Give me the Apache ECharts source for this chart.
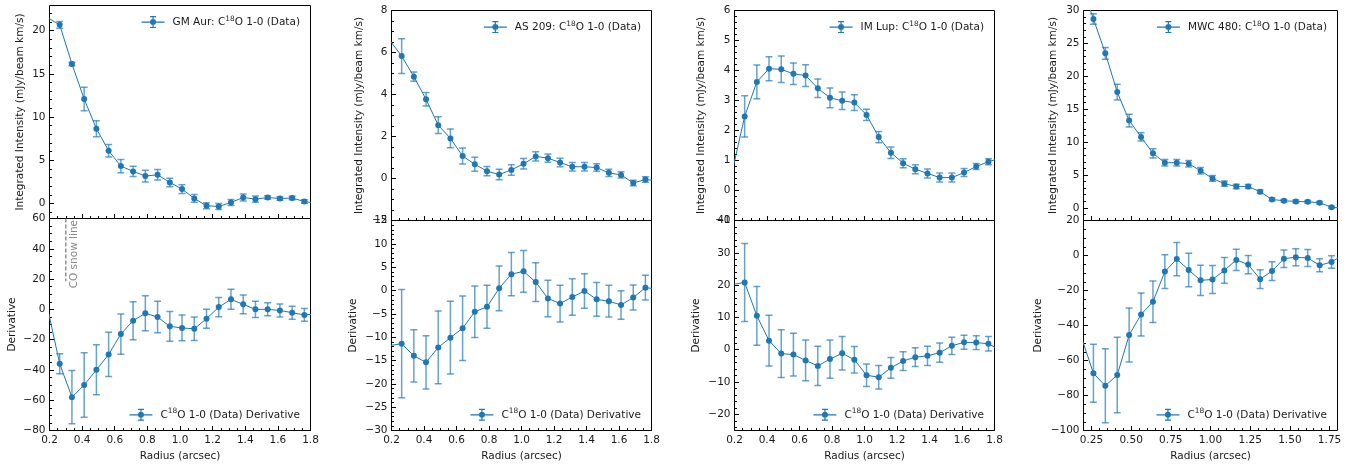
<!DOCTYPE html>
<html>
<head>
<meta charset="utf-8">
<script src="https://cdn.jsdelivr.net/npm/echarts@6/dist/echarts.min.js"></script>
<style>
  html, body { margin: 0; padding: 0; background: #ffffff; }
  #chart { width: 1364px; height: 464px; }
</style>
</head>
<body>
<div id="chart"></div>
<script>
// Radial bins (arcsec); the first and last bins sit just outside the plotted range
const radius = [0.1875, 0.2625, 0.3375, 0.4125, 0.4875, 0.5625, 0.6375, 0.7125, 0.7875, 0.8625,
  0.9375, 1.0125, 1.0875, 1.1625, 1.2375, 1.3125, 1.3875, 1.4625, 1.5375, 1.6125, 1.6875, 1.7625, 1.8375];

// GM Aur
const gmAurIntensity = [21.5, 20.66, 16.14, 12.08, 8.65, 6.1, 4.32, 3.71, 3.17, 3.32, 2.43, 1.66, 0.58,
  -0.27, -0.35, 0.12, 0.69, 0.5, 0.69, 0.58, 0.62, 0.23, 0.0];
const gmAurIntensityErr = [null, 0.4, 0.2, 1.35, 0.93, 0.73, 0.77, 0.6, 0.68, 0.6, 0.5, 0.5, 0.45,
  0.35, 0.35, 0.35, 0.4, 0.35, 0.2, 0.2, 0.2, 0.2, null];
const gmAurDerivative = [1.1, -35.9, -58.0, -50.0, -39.9, -29.8, -16.3, -7.5, -2.6, -5.1, -11.2, -12.3,
  -12.8, -6.2, 1.5, 6.6, 3.3, 0.0, 0.0, -0.7, -2.2, -3.7, -2.9];
const gmAurDerivativeErr = [null, 6.6, 17.6, 21.3, 16.5, 14.6, 13.3, 12.5, 11.6, 10.4, 9.8, 8.5, 7.7,
  6.3, 6.3, 6.6, 6.2, 5.4, 4.3, 4.3, 4.3, 4.2, null];

// AS 209
const as209Intensity = [6.6, 5.83, 4.85, 3.77, 2.54, 1.91, 1.07, 0.68, 0.35, 0.19, 0.41, 0.7, 1.05,
  0.97, 0.76, 0.56, 0.56, 0.52, 0.27, 0.17, -0.21, -0.05, -0.1];
const as209IntensityErr = [null, 0.83, 0.22, 0.32, 0.4, 0.45, 0.38, 0.33, 0.22, 0.25, 0.25, 0.25, 0.22,
  0.2, 0.2, 0.2, 0.2, 0.18, 0.17, 0.15, 0.13, 0.13, null];
const as209Derivative = [-11.8, -11.4, -14.0, -15.4, -12.2, -10.1, -8.1, -4.55, -3.5, 0.47, 3.5, 4.1,
  1.8, -1.7, -2.8, -1.4, -0.1, -1.9, -2.3, -3.1, -1.5, 0.6, 0.34];
const as209DerivativeErr = [null, 11.6, 5.6, 5.7, 7.8, 7.8, 6.9, 5.5, 4.6, 4.8, 4.65, 4.45, 4.15,
  3.9, 3.95, 3.9, 3.7, 3.6, 3.4, 3.05, 2.7, 2.65, null];

// IM Lup
const imLupIntensity = [0.67, 2.47, 3.62, 4.06, 4.04, 3.89, 3.83, 3.41, 3.09, 2.99, 2.93, 2.52, 1.78,
  1.26, 0.91, 0.71, 0.57, 0.43, 0.43, 0.6, 0.8, 0.96, 1.08];
const imLupIntensityErr = [null, 0.69, 0.56, 0.4, 0.44, 0.36, 0.36, 0.31, 0.33, 0.29, 0.26, 0.19, 0.19,
  0.19, 0.15, 0.15, 0.15, 0.15, 0.15, 0.13, 0.1, 0.1, null];
const imLupDerivative = [20.2, 20.8, 10.5, 2.8, -1.2, -1.5, -3.3, -5.0, -2.9, -1.1, -3.1, -7.9, -8.5,
  -5.6, -3.5, -2.3, -1.9, -0.9, 1.2, 2.3, 2.2, 1.85, -0.25];
const imLupDerivativeErr = [null, 12.05, 9.1, 7.85, 7.4, 6.6, 6.3, 6.05, 5.95, 5.2, 4.1, 3.5, 3.65,
  3.2, 2.9, 2.9, 3.0, 3.0, 2.7, 2.15, 2.15, 2.25, null];

// MWC 480
const mwc480Intensity = [33.9, 28.72, 23.49, 17.59, 13.27, 10.78, 8.29, 6.86, 6.86, 6.71, 5.64, 4.47,
  3.66, 3.25, 3.25, 2.44, 1.27, 1.07, 0.97, 0.92, 0.76, 0.1, -0.1];
const mwc480IntensityErr = [null, 0.8, 0.9, 1.2, 0.97, 0.64, 0.7, 0.5, 0.5, 0.5, 0.5, 0.45,
  0.4, 0.35, 0.3, 0.25, 0.25, 0.2, 0.2, 0.2, 0.2, 0.15, null];
const mwc480Derivative = [-46.9, -67.3, -74.4, -68.3, -45.4, -33.7, -26.4, -9.2, -2.0, -8.3, -14.2, -13.7,
  -8.5, -2.5, -5.2, -13.5, -8.9, -1.8, -1.0, -1.4, -5.6, -3.7, 0.5];
const mwc480DerivativeErr = [null, 16.6, 21.1, 21.6, 15.4, 12.3, 11.9, 9.6, 9.5, 9.55, 8.7, 8.0,
  7.4, 6.1, 5.2, 5.4, 5.4, 5.0, 4.9, 4.9, 3.7, 3.6, null];

// CO snow line (GM Aur) and the vertical span of its marker
const snowLineRadius = 0.3;
const snowLineSpan = [18.5, 60];
const snowLineLabel = 'CO snow line';

// Tick labels
const radiusTicks = [0.2, 0.4, 0.6, 0.8, 1.0, 1.2, 1.4, 1.6, 1.8];
const radiusTicksMwc = [0.25, 0.5, 0.75, 1.0, 1.25, 1.5, 1.75];
const gmAurIntensityTicks = [0, 5, 10, 15, 20];
const gmAurDerivativeTicks = [-80, -60, -40, -20, 0, 20, 40, 60];
const as209IntensityTicks = [-2, 0, 2, 4, 6, 8];
const as209DerivativeTicks = [-30, -25, -20, -15, -10, -5, 0, 5, 10, 15];
const imLupIntensityTicks = [-1, 0, 1, 2, 3, 4, 5, 6];
const imLupDerivativeTicks = [-20, -10, 0, 10, 20, 30, 40];
const mwc480IntensityTicks = [0, 5, 10, 15, 20, 25, 30];
const mwc480DerivativeTicks = [-100, -80, -60, -40, -20, 0, 20];

// Legend / axis texts
const intensityTitle = 'Integrated Intensity (mJy/beam km/s)';
const derivativeTitle = 'Derivative';
const radiusTitle = 'Radius (arcsec)';
const derivativeLegend = 'C18O 1-0 (Data) Derivative';

// ---------- styling and layout ----------
const FONT = 'DejaVu Sans';
const FS = 10.5;
const INK = '#1a1a1a';
const BLUE = '#1f77b4';
const ERR = 'rgba(31,119,180,0.68)';

const columns = [
  { left: 49.5, right: 310.5, top: 5.5, mid: 218.5, bottom: 430.5, gapTop: 23.5, gapBottom: 32 },
  { left: 391.5, right: 651.5, top: 10.5, mid: 220.5, bottom: 430.5, gapTop: 26.5, gapBottom: 33 },
  { left: 734.5, right: 994.5, top: 10.5, mid: 220.5, bottom: 430.5, gapTop: 27.5, gapBottom: 32.5 },
  { left: 1083.5, right: 1337.5, top: 10.5, mid: 220.5, bottom: 430.5, gapTop: 25, gapBottom: 40 }
];

const panels = [
  { col: 0, row: 0, name: 'GM Aur: C18O 1-0 (Data)', y: gmAurIntensity, err: gmAurIntensityErr,
    yMin: -1.74, yMax: 22.9, yTicks: gmAurIntensityTicks, yMinor: 1, xTicks: radiusTicks, xDec: 1 },
  { col: 0, row: 1, name: derivativeLegend, y: gmAurDerivative, err: gmAurDerivativeErr,
    yMin: -80, yMax: 60, yTicks: gmAurDerivativeTicks, yMinor: 5, xTicks: radiusTicks, xDec: 1, snow: true },
  { col: 1, row: 0, name: 'AS 209: C18O 1-0 (Data)', y: as209Intensity, err: as209IntensityErr,
    yMin: -2, yMax: 8, yTicks: as209IntensityTicks, yMinor: 0.5, xTicks: radiusTicks, xDec: 1 },
  { col: 1, row: 1, name: derivativeLegend, y: as209Derivative, err: as209DerivativeErr,
    yMin: -30, yMax: 15, yTicks: as209DerivativeTicks, yMinor: 1, xTicks: radiusTicks, xDec: 1 },
  { col: 2, row: 0, name: 'IM Lup: C18O 1-0 (Data)', y: imLupIntensity, err: imLupIntensityErr,
    yMin: -1, yMax: 6, yTicks: imLupIntensityTicks, yMinor: 0.2, xTicks: radiusTicks, xDec: 1 },
  { col: 2, row: 1, name: derivativeLegend, y: imLupDerivative, err: imLupDerivativeErr,
    yMin: -25, yMax: 40, yTicks: imLupDerivativeTicks, yMinor: 2, xTicks: radiusTicks, xDec: 1 },
  { col: 3, row: 0, name: 'MWC 480: C18O 1-0 (Data)', y: mwc480Intensity, err: mwc480IntensityErr,
    yMin: -1.93, yMax: 30, yTicks: mwc480IntensityTicks, yMinor: 1, xTicks: radiusTicksMwc, xDec: 2 },
  { col: 3, row: 1, name: derivativeLegend, y: mwc480Derivative, err: mwc480DerivativeErr,
    yMin: -100, yMax: 20, yTicks: mwc480DerivativeTicks, yMinor: 5, xTicks: radiusTicksMwc, xDec: 2 }
];

const X_MIN = 0.2, X_MAX = 1.8, X_MINOR = 0.05;

function minorTicks(majors, step, lo, hi) {
  const out = [];
  const start = Math.ceil(lo / step - 1e-9);
  const end = Math.floor(hi / step + 1e-9);
  for (let k = start; k <= end; k++) {
    const v = +(k * step).toFixed(6);
    if (v <= lo + 1e-9 || v >= hi - 1e-9) continue;
    if (majors.some(m => Math.abs(m - v) < step * 1e-3)) continue;
    out.push(v);
  }
  return out;
}

const minus = v => (v < 0 ? '\u2212' + String(Math.abs(v)) : String(v));
const labelStyle = { fontFamily: FONT, fontSize: FS, color: INK };

const legendIcon = 'path://M0 5.4 H23 V6.6 H0 Z M10.9 0 H12.1 V12 H10.9 Z M8.5 0 H14.5 V1.2 H8.5 Z ' +
  'M8.5 10.8 H14.5 V12 H8.5 Z M14.5 6 A3 3 0 1 1 8.5 6 A3 3 0 1 1 14.5 6 Z';

const legendRich = {
  g: { width: 3, fontSize: FS, fontFamily: FONT },
  t: { fontSize: FS, fontFamily: FONT, color: INK, lineHeight: 14 },
  s: { fontSize: 7.4, fontFamily: FONT, color: INK, lineHeight: 8, verticalAlign: 'top' }
};
function legendText(name) {
  const i = name.indexOf('C18O');
  return '{g| }{t|' + name.slice(0, i) + 'C}{s|18}{t|O' + name.slice(i + 4) + '}';
}

const grid = [], xAxis = [], yAxis = [], series = [], legend = [];

panels.forEach((p, i) => {
  const c = columns[p.col];
  const top = p.row === 0 ? c.top : c.mid;
  const bottom = p.row === 0 ? c.mid : c.bottom;
  const isBottom = p.row === 1;
  grid.push({
    left: c.left, top: top, width: c.right - c.left, height: bottom - top,
    show: true, borderColor: '#000', borderWidth: 1, backgroundColor: 'transparent',
    containLabel: false, outerBoundsMode: 'none'
  });

  const tickLine = { color: '#000', width: 1 };
  const noLine = { show: false, onZero: false };
  // radius axis: major ticks (with labels on the lower panel) and minor ticks
  xAxis.push({
    type: 'value', gridIndex: i, min: X_MIN, max: X_MAX, position: 'bottom',
    axisLine: noLine, splitLine: { show: false },
    axisTick: { show: true, inside: true, length: 4.5, lineStyle: tickLine, customValues: p.xTicks },
    axisLabel: Object.assign({ show: isBottom, margin: 4, customValues: p.xTicks,
      formatter: v => v.toFixed(p.xDec) }, labelStyle),
    name: isBottom ? radiusTitle : '', nameLocation: 'middle', nameGap: 20,
    nameTextStyle: labelStyle
  });
  xAxis.push({
    type: 'value', gridIndex: i, min: X_MIN, max: X_MAX, position: 'bottom',
    axisLine: noLine, splitLine: { show: false }, axisLabel: { show: false },
    axisTick: { show: true, inside: true, length: 2.5, lineStyle: tickLine,
      customValues: minorTicks(p.xTicks, X_MINOR, X_MIN, X_MAX) }
  });
  yAxis.push({
    type: 'value', gridIndex: i, min: p.yMin, max: p.yMax, position: 'left',
    axisLine: noLine, splitLine: { show: false },
    axisTick: { show: true, inside: true, length: 4.5, lineStyle: tickLine, customValues: p.yTicks },
    axisLabel: Object.assign({ show: true, margin: 4, customValues: p.yTicks, formatter: minus }, labelStyle),
    name: isBottom ? derivativeTitle : intensityTitle, nameLocation: 'middle',
    nameGap: isBottom ? c.gapBottom : c.gapTop, nameTextStyle: labelStyle
  });
  yAxis.push({
    type: 'value', gridIndex: i, min: p.yMin, max: p.yMax, position: 'left',
    axisLine: noLine, splitLine: { show: false }, axisLabel: { show: false },
    axisTick: { show: true, inside: true, length: 2.5, lineStyle: tickLine,
      customValues: minorTicks(p.yTicks, p.yMinor, p.yMin, p.yMax) }
  });

  const xi = 2 * i, yi = 2 * i;

  // error bars with caps
  const errData = [];
  radius.forEach((r, k) => { if (p.err[k] != null) errData.push([r, p.y[k], p.err[k]]); });
  series.push({
    type: 'custom', xAxisIndex: xi, yAxisIndex: yi, clip: true, z: 2, silent: true,
    encode: { x: 0, y: 1 }, data: errData,
    renderItem: (params, api) => {
      const x = api.value(0), y = api.value(1), e = api.value(2);
      const hi = api.coord([x, y + e]), lo = api.coord([x, y - e]);
      const cap = 3.5;
      const st = { stroke: ERR, lineWidth: 1.5 };
      return {
        type: 'group', children: [
          { type: 'line', shape: { x1: hi[0], y1: hi[1], x2: lo[0], y2: lo[1] }, style: st },
          { type: 'line', shape: { x1: hi[0] - cap, y1: hi[1], x2: hi[0] + cap, y2: hi[1] }, style: st },
          { type: 'line', shape: { x1: lo[0] - cap, y1: lo[1], x2: lo[0] + cap, y2: lo[1] }, style: st }
        ]
      };
    }
  });

  // profile line with markers
  series.push({
    type: 'line', name: p.name, xAxisIndex: xi, yAxisIndex: yi, z: 3, clip: true,
    symbol: 'circle', symbolSize: 6, showAllSymbol: true, animation: false,
    itemStyle: { color: BLUE }, lineStyle: { color: BLUE, width: 1 },
    data: radius.map((r, k) => p.err[k] == null
      ? { value: [r, p.y[k]], symbol: 'none' }
      : [r, p.y[k]])
  });

  if (p.snow) {
    series.push({
      type: 'line', xAxisIndex: xi, yAxisIndex: yi, z: 1, symbol: 'none', silent: true,
      lineStyle: { color: '#808080', width: 1.3, type: [4, 2] },
      data: [[snowLineRadius, snowLineSpan[1]], [snowLineRadius, snowLineSpan[0]]]
    });
    series.push({
      type: 'custom', xAxisIndex: xi, yAxisIndex: yi, z: 1, silent: true,
      encode: { x: 0, y: 1 }, data: [[snowLineRadius, snowLineSpan[1]]],
      renderItem: (params, api) => {
        const pt = api.coord([api.value(0), api.value(1)]);
        return {
          type: 'text', x: pt[0] + 8, y: pt[1] + 1.5, rotation: Math.PI / 2,
          style: { text: snowLineLabel, fill: '#888888', font: FS + 'px "' + FONT + '"',
            align: 'right', verticalAlign: 'middle' }
        };
      }
    });
  }

  const legendRight = 1364 - (c.right - 10.5);
  legend.push({
    show: true, selectedMode: false, padding: 0, orient: 'horizontal',
    right: legendRight,
    top: isBottom ? c.bottom - 22.7 : c.top + 9.6,
    itemWidth: 23, itemHeight: 12,
    data: [{ name: p.name, icon: legendIcon }],
    itemStyle: { color: BLUE, borderWidth: 0 },
    formatter: legendText,
    textStyle: { fontFamily: FONT, fontSize: FS, color: INK, rich: legendRich }
  });
});

const chart = echarts.init(document.getElementById('chart'), null, { renderer: 'canvas' });
chart.setOption({
  backgroundColor: '#ffffff',
  animation: false,
  textStyle: { fontFamily: FONT },
  grid: grid, xAxis: xAxis, yAxis: yAxis, legend: legend, series: series
});
</script>
</body>
</html>
